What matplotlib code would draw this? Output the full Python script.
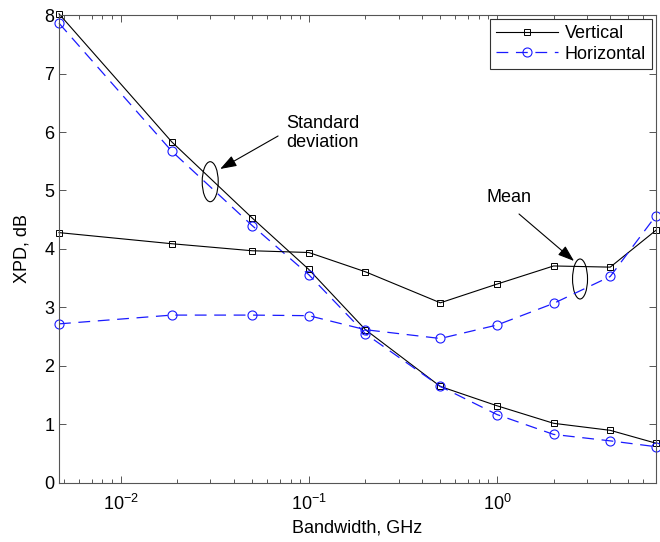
import matplotlib
matplotlib.use('Agg')
import matplotlib.pyplot as plt
from matplotlib.patches import Ellipse
from matplotlib.ticker import LogLocator, NullFormatter

plt.rcParams['font.family'] = ['Liberation Sans', 'DejaVu Sans']
plt.rcParams['mathtext.fontset'] = 'custom'
plt.rcParams['mathtext.rm'] = 'Liberation Sans'
plt.rcParams['lines.scale_dashes'] = False

# bandwidth, GHz
bandwidth = [0.0047, 0.0187, 0.05, 0.1, 0.2, 0.5, 1, 2, 4, 7]

# standard deviation of XPD, dB
std_vertical = [8.02, 5.83, 4.53, 3.65, 2.62, 1.65, 1.32, 1.02, 0.90, 0.68]
std_horizontal = [7.86, 5.67, 4.40, 3.56, 2.55, 1.65, 1.17, 0.83, 0.72, 0.62]

# mean XPD, dB
mean_vertical = [4.28, 4.09, 3.97, 3.94, 3.61, 3.08, 3.40, 3.71, 3.69, 4.32]
mean_horizontal = [2.72, 2.87, 2.87, 2.86, 2.62, 2.47, 2.70, 3.07, 3.53, 4.57]

fig = plt.figure(figsize=(6.6, 5.42), dpi=100)
ax = fig.add_axes([0.0894, 0.1089, 0.9045, 0.8634])

v_style = dict(color='k', lw=0.8, marker='s', markersize=5, markerfacecolor='none',
               markeredgewidth=0.7, clip_on=False)
h_style = dict(color='#1a1aff', lw=0.9, ls=(0, (8.5, 5.5)), marker='o', markersize=6.5,
               markerfacecolor='none', markeredgewidth=0.8, clip_on=False)

ax.plot(bandwidth, std_vertical, label='Vertical', **v_style)
ax.plot(bandwidth, std_horizontal, label='Horizontal', **h_style)
ax.plot(bandwidth, mean_vertical, **v_style)
ax.plot(bandwidth, mean_horizontal, **h_style)

ax.set_xscale('log')
ax.set_xlim(0.0047, 7)
ax.set_ylim(0, 8)
ax.set_yticks(range(0, 9))
ax.xaxis.set_major_locator(LogLocator(base=10))
ax.xaxis.set_minor_locator(LogLocator(base=10, subs=range(2, 10)))
ax.xaxis.set_minor_formatter(NullFormatter())

for s in ax.spines.values():
    s.set_color('#555555')
    s.set_linewidth(0.8)
ax.tick_params(which='both', direction='in', top=True, right=True, color='#555555',
               labelsize=13, width=0.7)
ax.tick_params(which='major', length=5)
ax.tick_params(which='minor', length=3)
ax.tick_params(axis='x', pad=8)

ax.set_xlabel('Bandwidth, GHz', fontsize=13)
ax.set_ylabel('XPD, dB', fontsize=13, labelpad=10)

leg = ax.legend(loc='upper right', fontsize=13, numpoints=1, handlelength=3.4,
                fancybox=False, framealpha=1, edgecolor='#333333',
                borderaxespad=0.2, borderpad=0.35, labelspacing=0.2, handletextpad=0.4)
leg.get_frame().set_linewidth(0.8)

# annotations: ellipses and arrows
ax.add_patch(Ellipse((0.2533, 0.6438), 0.0268, 0.0855, transform=ax.transAxes,
                     fill=False, ec='k', lw=0.8))
ax.add_patch(Ellipse((0.8728, 0.4359), 0.0251, 0.0855, transform=ax.transAxes,
                     fill=False, ec='k', lw=0.8))
arrow = dict(arrowstyle='-|>,head_length=1.0,head_width=0.35', color='k', lw=0.8,
             shrinkA=0, shrinkB=0)
ax.annotate('', xy=(0.270, 0.671), xytext=(0.367, 0.7415), xycoords='axes fraction',
            arrowprops=arrow)
ax.annotate('', xy=(0.8627, 0.4744), xytext=(0.7706, 0.5748), xycoords='axes fraction',
            arrowprops=arrow)
ax.text(0.381, 0.748, 'Standard\ndeviation', transform=ax.transAxes, fontsize=13,
        ha='left', va='center', linespacing=1.1)
ax.text(0.7539, 0.609, 'Mean', transform=ax.transAxes, fontsize=13,
        ha='center', va='center')

fig.savefig('out.png', dpi=100)
